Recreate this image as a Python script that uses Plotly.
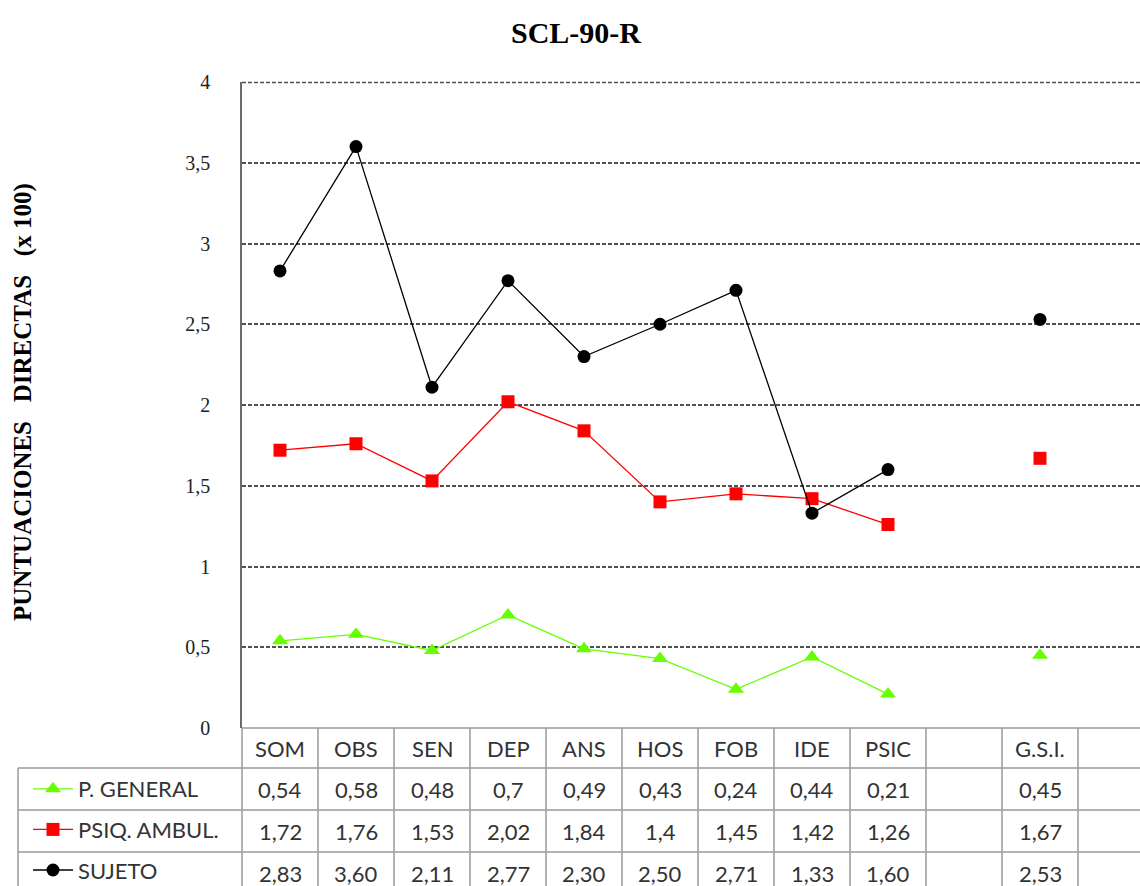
import plotly.graph_objects as go

# SCL-90-R profile: raw scores per dimension for three groups
categories = ["SOM", "OBS", "SEN", "DEP", "ANS", "HOS", "FOB", "IDE", "PSIC", "", "G.S.I.", ""]
p_general = [0.54, 0.58, 0.48, 0.7, 0.49, 0.43, 0.24, 0.44, 0.21, None, 0.45, None]
psiq_ambul = [1.72, 1.76, 1.53, 2.02, 1.84, 1.4, 1.45, 1.42, 1.26, None, 1.67, None]
sujeto = [2.83, 3.60, 2.11, 2.77, 2.30, 2.50, 2.71, 1.33, 1.60, None, 2.53, None]
y_ticks = [0, 0.5, 1, 1.5, 2, 2.5, 3, 3.5, 4]

W, H = 1140, 886
PLOT_L, PLOT_T, PLOT_B = 242, 82, 728
COL_W = 76
HEADER_B = 768
ROW_H = 42
TABLE_L = 18


def px(x):
    return x / W


def py(y):
    return 1 - y / H


series = [
    ("P. GENERAL", p_general, "#66ff00", "triangle-up", 14, "{:g}"),
    ("PSIQ. AMBUL.", psiq_ambul, "#ff0000", "square", 13, "{:g}"),
    ("SUJETO", sujeto, "#000000", "circle", 13, "{:.2f}"),
]

x_idx = list(range(len(categories)))

fig = go.Figure()
for name, vals, color, symbol, size, fmt in series:
    fig.add_trace(go.Scatter(
        x=x_idx, y=vals, name=name, mode="lines+markers",
        line=dict(color=color, width=1.3),
        marker=dict(color=color, symbol=symbol, size=size),
        legendgroup=name, connectgaps=False,
    ))

table_font = dict(family="Lato", size=22, color="#333333")
line_gray = "#9a9a9a"
grid_gray = "#505050"

annotations = []
shapes = []

# header row with the category names
for i, cat in enumerate(categories):
    if cat:
        annotations.append(dict(x=i, xref="x", y=py((PLOT_B + HEADER_B) / 2), yref="paper",
                                text=cat, showarrow=False, font=table_font,
                                xanchor="center", yanchor="middle"))

# value rows
for r, (name, vals, color, symbol, size, fmt) in enumerate(series):
    yc = HEADER_B + ROW_H * r + ROW_H / 2
    for i, v in enumerate(vals):
        if v is None:
            continue
        annotations.append(dict(x=i, xref="x", y=py(yc), yref="paper",
                                text=fmt.format(v).replace(".", ","), showarrow=False,
                                font=table_font, xanchor="center", yanchor="middle"))

# dashed line along the top edge of the plot area
shapes.append(dict(type="line", xref="paper", yref="paper", x0=px(PLOT_L), x1=1,
                   y0=py(PLOT_T + 0.5), y1=py(PLOT_T + 0.5),
                   line=dict(color=grid_gray, width=1.6, dash="4px,2px")))

# table grid lines
shapes.append(dict(type="line", xref="paper", yref="paper", x0=px(PLOT_L), x1=1,
                   y0=py(PLOT_B), y1=py(PLOT_B), line=dict(color=line_gray, width=1.5)))
for r in range(3):
    yl = HEADER_B + ROW_H * r
    shapes.append(dict(type="line", xref="paper", yref="paper", x0=px(TABLE_L), x1=1,
                       y0=py(yl), y1=py(yl), line=dict(color=line_gray, width=1.5)))
for i in range(len(categories)):
    shapes.append(dict(type="line", xref="x", yref="paper", x0=i + 0.5, x1=i + 0.5,
                       y0=py(PLOT_B), y1=0, line=dict(color=line_gray, width=1.5)))
shapes.append(dict(type="line", xref="paper", yref="paper", x0=px(PLOT_L), x1=px(PLOT_L),
                   y0=py(PLOT_B), y1=0, line=dict(color=line_gray, width=1.5)))
shapes.append(dict(type="line", xref="paper", yref="paper", x0=px(TABLE_L), x1=px(TABLE_L),
                   y0=py(HEADER_B), y1=0, line=dict(color=line_gray, width=1.5)))

# title and vertical axis title
annotations.append(dict(x=px(576), y=py(32), xref="paper", yref="paper", showarrow=False,
                        text="<b>SCL-90-R</b>",
                        font=dict(family="Liberation Serif", size=30, color="#000000"),
                        xanchor="center", yanchor="middle"))
annotations.append(dict(x=px(23), y=py(402), xref="paper", yref="paper", showarrow=False,
                        text="<b>PUNTUACIONES&nbsp;&nbsp;&nbsp;DIRECTAS&nbsp;&nbsp;&nbsp;(x 100)</b>",
                        textangle=-90,
                        font=dict(family="Liberation Serif", size=25, color="#000000"),
                        xanchor="center", yanchor="middle"))

fig.update_layout(
    width=W, height=H,
    margin=dict(l=0, r=0, t=0, b=0, autoexpand=False),
    paper_bgcolor="white", plot_bgcolor="white",
    separators=", ",
    showlegend=True,
    legend=dict(x=px(28), y=py(HEADER_B), xanchor="left", yanchor="top",
                font=dict(family="Lato", size=22, color="#333333"),
                bgcolor="rgba(0,0,0,0)", tracegroupgap=9, itemwidth=40),
    xaxis=dict(domain=[px(PLOT_L), 1], range=[-0.5, -0.5 + (W - PLOT_L) / COL_W],
               showgrid=False, zeroline=False, showticklabels=False, showline=False,
               fixedrange=True, automargin=False),
    yaxis=dict(domain=[py(PLOT_B), py(PLOT_T)], range=[0, 4], tickvals=y_ticks,
               showgrid=True, gridcolor=grid_gray, griddash="4px,2px", gridwidth=1.5,
               zeroline=False, showline=True, linecolor="#6a6a6a", linewidth=1.5,
               ticks="", ticklabelstandoff=26, automargin=False,
               tickfont=dict(family="Liberation Serif", size=20, color="#222222")),
    annotations=annotations,
    shapes=shapes,
)

fig.write_html("out.html")
